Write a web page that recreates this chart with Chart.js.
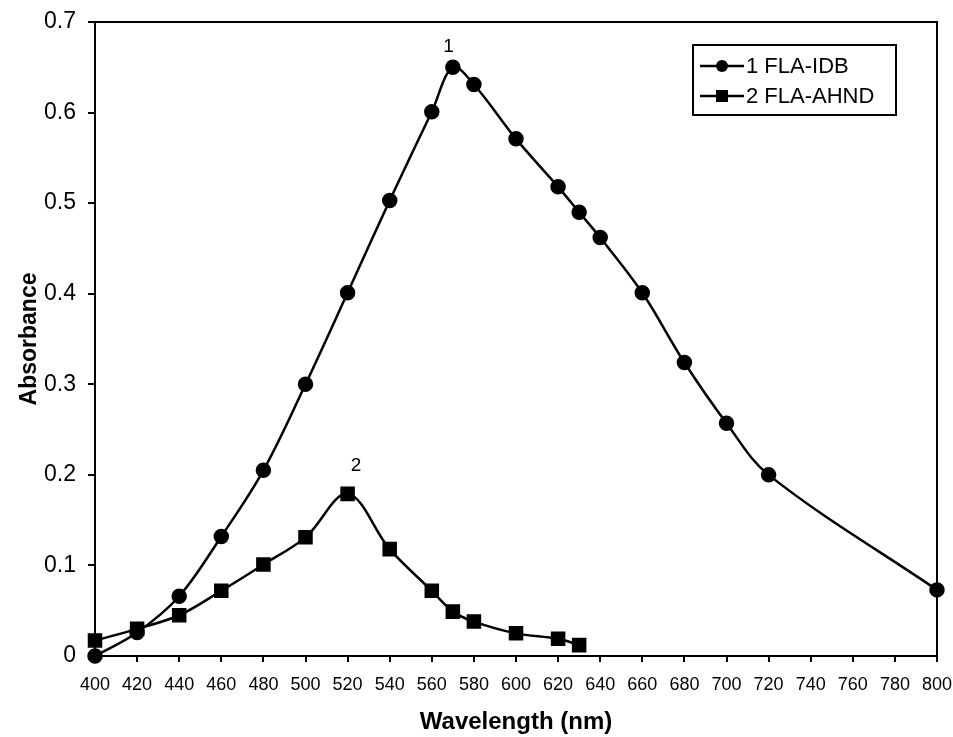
<!DOCTYPE html>
<html>
<head>
<meta charset="utf-8">
<script src="https://cdn.jsdelivr.net/npm/chart.js@4"></script>
<style>
  html, body { margin: 0; padding: 0; background: #fff; }
</style>
</head>
<body>
<canvas id="absChart" width="953" height="737"></canvas>
<script>
// Dados
const wavelengthIDB = [400, 420, 440, 460, 480, 500, 520, 540, 560, 570, 580, 600, 620, 630, 640, 660, 680, 700, 720, 800];
const absIDB = [0, 0.026, 0.066, 0.132, 0.205, 0.300, 0.401, 0.503, 0.601, 0.650, 0.631, 0.571, 0.518, 0.490, 0.462, 0.401, 0.324, 0.257, 0.200, 0.073];
const wavelengthAHND = [400, 420, 440, 460, 480, 500, 520, 540, 560, 570, 580, 600, 620, 630];
const absAHND = [0.017, 0.030, 0.045, 0.072, 0.101, 0.131, 0.179, 0.118, 0.072, 0.049, 0.038, 0.025, 0.019, 0.012];
const seriesNames = ['1 FLA-IDB', '2 FLA-AHND'];
const peakLabels = ['1', '2'];
const peakLabelX = [568, 524];
const peakLabelY = [0.673, 0.210];

const FONT = "'Liberation Sans', Arial, sans-serif";

function toPoints(xs, ys) {
    return xs.map((x, i) => ({ x: x, y: ys[i] }));
}

// moldura em volta da área do gráfico
const framePlugin = {
    id: 'frame',
    beforeDatasetsDraw(chart) {
        const { ctx, chartArea: a } = chart;
        ctx.save();
        ctx.strokeStyle = '#000';
        ctx.lineWidth = 2;
        ctx.strokeRect(a.left, a.top, a.right - a.left, a.bottom - a.top);
        ctx.restore();
    }
};

// números "1" e "2" sobre os picos
const peakTextPlugin = {
    id: 'peakText',
    afterDatasetsDraw(chart) {
        const { ctx, scales } = chart;
        ctx.save();
        ctx.fillStyle = '#000';
        ctx.font = '19px ' + FONT;
        ctx.textAlign = 'center';
        ctx.textBaseline = 'middle';
        peakLabels.forEach((t, i) => {
            ctx.fillText(t, scales.x.getPixelForValue(peakLabelX[i]), scales.y.getPixelForValue(peakLabelY[i]));
        });
        ctx.restore();
    }
};

// legenda com linha + marcador
const boxLegendPlugin = {
    id: 'boxLegend',
    afterDraw(chart) {
        const ctx = chart.ctx;
        const bx = 693, by = 45, bw = 203, bh = 70;
        ctx.save();
        ctx.fillStyle = '#fff';
        ctx.fillRect(bx, by, bw, bh);
        ctx.strokeStyle = '#000';
        ctx.lineWidth = 2;
        ctx.strokeRect(bx, by, bw, bh);
        ctx.font = '22px ' + FONT;
        ctx.textBaseline = 'middle';
        chart.data.datasets.forEach((ds, i) => {
            const y = by + 21 + i * 30;
            ctx.strokeStyle = '#000';
            ctx.lineWidth = 2.5;
            ctx.beginPath();
            ctx.moveTo(bx + 7, y);
            ctx.lineTo(bx + 51, y);
            ctx.stroke();
            ctx.fillStyle = '#000';
            if (ds.pointStyle === 'rect') {
                ctx.fillRect(bx + 23, y - 6, 12, 12);
            } else {
                ctx.beginPath();
                ctx.arc(bx + 29, y, 6, 0, Math.PI * 2);
                ctx.fill();
            }
            ctx.fillText(ds.label, bx + 53, y + 1);
        });
        ctx.restore();
    }
};

const ctx = document.getElementById('absChart').getContext('2d');

new Chart(ctx, {
    type: 'line',
    data: {
        datasets: [{
            label: seriesNames[0],
            data: toPoints(wavelengthIDB, absIDB),
            borderColor: '#000',
            backgroundColor: '#000',
            borderWidth: 2.5,
            pointStyle: 'circle',
            pointRadius: 6.5,
            pointHoverRadius: 6.5,
            tension: 0.35,
            clip: false
        }, {
            label: seriesNames[1],
            data: toPoints(wavelengthAHND, absAHND),
            borderColor: '#000',
            backgroundColor: '#000',
            borderWidth: 2.5,
            pointStyle: 'rect',
            pointRadius: 8.5,
            pointHoverRadius: 8.5,
            tension: 0.35,
            clip: false
        }]
    },
    options: {
        responsive: false,
        animation: false,
        layout: { padding: 0 },
        plugins: {
            legend: { display: false },
            tooltip: { enabled: false }
        },
        scales: {
            x: {
                type: 'linear',
                min: 400,
                max: 800,
                // tamanho fixo do eixo para casar com a figura
                afterFit: scale => { scale.height = 81; scale.paddingRight = 16; },
                ticks: {
                    stepSize: 20,
                    color: '#000',
                    padding: 12,
                    maxRotation: 0,
                    autoSkip: false,
                    font: { family: FONT, size: 18 }
                },
                grid: { drawOnChartArea: false, color: '#000', tickLength: 6, lineWidth: 2 },
                border: { color: '#000', width: 2 },
                title: {
                    display: true,
                    text: 'Wavelength (nm)',
                    color: '#000',
                    font: { family: FONT, size: 24, weight: 'bold' },
                    padding: { top: 4, bottom: 0 }
                }
            },
            y: {
                min: 0,
                max: 0.7,
                afterFit: scale => { scale.width = 95; scale.paddingTop = 22; scale.paddingBottom = 0; },
                ticks: {
                    stepSize: 0.1,
                    color: '#000',
                    padding: 12,
                    font: { family: FONT, size: 23 },
                    callback: v => v === 0 ? '0' : v.toFixed(1)
                },
                grid: { drawOnChartArea: false, color: '#000', tickLength: 7, lineWidth: 2 },
                border: { color: '#000', width: 2 },
                title: {
                    display: true,
                    text: 'Absorbance',
                    color: '#000',
                    font: { family: FONT, size: 23, weight: 'bold' },
                    padding: { top: 16, bottom: 0 }
                }
            }
        }
    },
    plugins: [framePlugin, peakTextPlugin, boxLegendPlugin]
});
</script>
</body>
</html>
